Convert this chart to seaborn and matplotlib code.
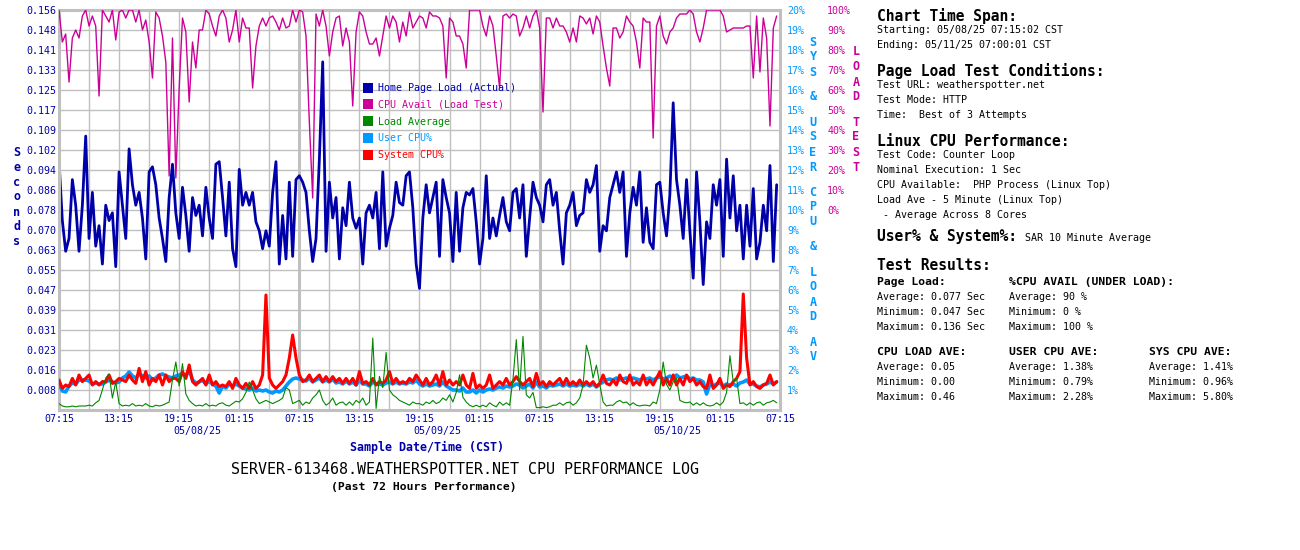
import numpy as np
import pandas as pd
import matplotlib
matplotlib.use("Agg")
import matplotlib.pyplot as plt
import matplotlib.dates as mdates
from matplotlib.lines import Line2D
import seaborn as sns

# samples every 20 minutes, 05/08/25 07:15 -> 05/11/25 07:15
page_load = [
    0.0975, 0.074, 0.062, 0.067, 0.090, 0.080, 0.062, 0.080, 0.107, 0.067,
    0.085, 0.064, 0.072, 0.057, 0.080, 0.074, 0.077, 0.056, 0.093, 0.080,
    0.067, 0.102, 0.088, 0.080, 0.085, 0.075, 0.059, 0.093, 0.095, 0.088,
    0.075, 0.067, 0.058, 0.083, 0.096, 0.077, 0.067, 0.087, 0.076, 0.062,
    0.083, 0.076, 0.080, 0.068, 0.087, 0.075, 0.067, 0.096, 0.097, 0.083,
    0.068, 0.089, 0.063, 0.056,
    0.094, 0.080, 0.085, 0.080, 0.085, 0.0735, 0.070, 0.063, 0.070, 0.064,
    0.085, 0.097, 0.057, 0.076, 0.059, 0.089, 0.060, 0.090, 0.0915, 0.089,
    0.085, 0.070, 0.058, 0.067, 0.098, 0.136, 0.062, 0.089, 0.075, 0.083,
    0.059, 0.079, 0.072, 0.089, 0.075, 0.071, 0.075, 0.057, 0.077, 0.080,
    0.075, 0.085, 0.063, 0.093, 0.064, 0.071, 0.076, 0.089, 0.081, 0.080,
    0.0915, 0.093, 0.079, 0.057,
    0.0475, 0.075, 0.088, 0.077, 0.083, 0.089, 0.060, 0.090, 0.083, 0.077,
    0.058, 0.085, 0.062, 0.079, 0.085, 0.084, 0.0865, 0.0735, 0.057, 0.067,
    0.0915, 0.067, 0.075, 0.068, 0.076, 0.083, 0.0735, 0.070, 0.085, 0.0865,
    0.075, 0.088, 0.060, 0.075, 0.089, 0.083, 0.080, 0.0735, 0.088, 0.090,
    0.080, 0.085, 0.070, 0.057, 0.077, 0.080, 0.085, 0.072, 0.076, 0.077,
    0.090, 0.085, 0.088, 0.0955,
    0.062, 0.072, 0.070, 0.083, 0.088, 0.093, 0.085, 0.093, 0.060, 0.077,
    0.087, 0.080, 0.093, 0.0655, 0.079, 0.0655, 0.063, 0.088, 0.089, 0.077,
    0.068, 0.084, 0.120, 0.090, 0.080, 0.067, 0.090, 0.070, 0.0515, 0.093,
    0.0735, 0.049, 0.0735, 0.067, 0.088, 0.080, 0.090, 0.060, 0.098, 0.075,
    0.0915, 0.070, 0.080, 0.059, 0.080, 0.064, 0.0865, 0.059, 0.0655, 0.080,
    0.070, 0.0955, 0.058, 0.088,
]

cpu_avail = [
    100, 84, 88, 64, 86, 90, 86, 97, 100, 92, 97, 92, 57, 100, 97, 94, 100, 85,
    99, 100, 96, 100, 100, 94, 100, 90, 95, 84, 66, 99, 96, 87, 74, 17, 86, 16,
    61, 96, 89, 54, 84, 71, 90, 90, 100, 98, 92, 87, 97, 100, 96, 84, 90, 100,
    84, 96, 91, 91, 61, 82, 92, 96, 92, 96, 97, 94, 90, 96, 91, 92, 100, 94,
    100, 99, 87, 44, 6, 98, 92, 100, 92, 77, 89, 96, 97, 82, 91, 84, 52, 89,
    99, 97, 89, 83, 83, 86, 77, 87, 97, 91, 97, 94, 84, 94, 87, 99, 91, 94,
    97, 96, 91, 99, 97, 97, 96, 92, 66, 96, 94, 87, 87, 83, 71, 100, 100, 100,
    100, 92, 87, 97, 92, 77, 61, 97, 98, 96, 98, 97, 87, 91, 97, 91, 97, 100,
    91, 49, 96, 96, 91, 96, 92, 92, 89, 84, 91, 84, 97, 96, 93, 96, 88, 97,
    94, 82, 71, 62, 91, 91, 86, 89, 97, 94, 92, 84, 71, 96, 94, 94, 36, 92,
    97, 87, 83, 89, 91, 96, 98, 98, 98, 100, 98, 89, 84, 91, 100, 100, 100, 100,
    100, 97, 89, 90, 91, 91, 91, 91, 92, 92, 66, 97, 69, 96, 86, 42, 91, 97,
]

load_avg = [
    0.04, 0.025, 0.02, 0.02, 0.025, 0.02, 0.025, 0.025, 0.025, 0.03,
    0.025, 0.045, 0.06, 0.125, 0.2, 0.225, 0.075, 0.175, 0.04, 0.025,
    0.03, 0.025, 0.04, 0.025, 0.03, 0.025, 0.04, 0.025, 0.02, 0.03,
    0.025, 0.03, 0.04, 0.05, 0.19, 0.30, 0.15, 0.29, 0.10, 0.06,
    0.04, 0.025, 0.03, 0.025, 0.04, 0.025, 0.03, 0.025, 0.04, 0.045,
    0.03, 0.025, 0.04, 0.055,
    0.05, 0.07, 0.11, 0.175, 0.125, 0.07, 0.04, 0.05, 0.06, 0.05,
    0.04, 0.05, 0.06, 0.075, 0.14, 0.125, 0.04, 0.05, 0.06, 0.03,
    0.05, 0.04, 0.075, 0.095, 0.125, 0.06, 0.03, 0.045, 0.075, 0.03,
    0.045, 0.05, 0.03, 0.05, 0.03, 0.06, 0.045, 0.075, 0.03, 0.05,
    0.45, 0.01, 0.21, 0.14, 0.36, 0.125, 0.095, 0.08, 0.06, 0.05,
    0.04, 0.03, 0.05, 0.04,
    0.04, 0.03, 0.05, 0.04, 0.06, 0.04, 0.05, 0.075, 0.06, 0.095,
    0.05, 0.11, 0.22, 0.08, 0.05, 0.03, 0.02, 0.03, 0.02, 0.03,
    0.02, 0.045, 0.03, 0.02, 0.05, 0.03, 0.045, 0.03, 0.19, 0.44,
    0.125, 0.46, 0.095, 0.075, 0.11, 0.015, 0.015, 0.02, 0.015, 0.02,
    0.03, 0.03, 0.045, 0.03, 0.045, 0.05, 0.03, 0.045, 0.075, 0.155,
    0.405, 0.325, 0.2, 0.28,
    0.16, 0.05, 0.025, 0.03, 0.03, 0.05, 0.06, 0.045, 0.05, 0.03,
    0.045, 0.03, 0.025, 0.03, 0.03, 0.025, 0.05, 0.04, 0.125, 0.30,
    0.16, 0.125, 0.175, 0.2, 0.06, 0.05, 0.045, 0.05, 0.03, 0.045,
    0.03, 0.045, 0.03, 0.025, 0.03, 0.045, 0.03, 0.05, 0.11, 0.34,
    0.175, 0.2, 0.04, 0.045, 0.03, 0.045, 0.03, 0.045, 0.05, 0.03,
    0.045, 0.05, 0.06, 0.045,
]

user_cpu = [
    1.3, 0.95, 0.9, 1.2, 1.35, 1.3, 1.5, 1.5, 1.5, 1.45,
    1.3, 1.35, 1.3, 1.3, 1.4, 1.5, 1.4, 1.35, 1.4, 1.6,
    1.7, 1.9, 1.7, 1.6, 1.8, 1.7, 1.6, 1.7, 1.5, 1.6,
    1.75, 1.8, 1.7, 1.65, 1.6, 1.7, 1.75, 1.8, 1.7, 2.0,
    1.5, 1.35, 1.4, 1.5, 1.3, 1.45, 1.3, 1.2, 0.85, 1.2,
    1.1, 1.3, 1.2, 1.3,
    1.2, 1.1, 1.05, 1.0, 1.1, 0.95, 1.0, 0.95, 1.0, 0.9,
    0.85, 0.95, 0.9, 1.0, 1.2, 1.4, 1.55, 1.6, 1.55, 1.5,
    1.45, 1.6, 1.4, 1.5, 1.6, 1.4, 1.5, 1.4, 1.55, 1.35,
    1.4, 1.3, 1.45, 1.3, 1.4, 1.25, 1.5, 1.3, 1.3, 1.2,
    1.4, 1.3, 1.3, 1.25, 1.35, 1.4, 1.3, 1.4, 1.3, 1.35,
    1.3, 1.4, 1.35, 1.5,
    1.3, 1.2, 1.3, 1.2, 1.25, 1.3, 1.2, 1.4, 1.2, 1.1,
    1.0, 1.0, 0.95, 1.1, 0.9, 0.9, 1.0, 0.85, 1.0, 0.9,
    1.0, 1.05, 1.0, 1.1, 1.15, 1.1, 1.2, 1.15, 1.2, 1.3,
    1.25, 1.1, 1.2, 1.3, 1.1, 1.4, 1.15, 1.2, 1.1, 1.25,
    1.2, 1.25, 1.3, 1.2, 1.3, 1.2, 1.25, 1.2, 1.3, 1.2,
    1.3, 1.2, 1.3, 1.15,
    1.3, 1.4, 1.5, 1.55, 1.5, 1.6, 1.5, 1.55, 1.6, 1.5,
    1.6, 1.55, 1.5, 1.6, 1.55, 1.6, 1.5, 1.6, 1.65, 1.55,
    1.6, 1.7, 1.6, 1.75, 1.6, 1.65, 1.7, 1.55, 1.6, 1.5,
    1.5, 1.4, 0.8, 1.3, 1.2, 1.3, 1.35, 1.2, 1.3, 1.25,
    1.3, 1.2, 1.35, 1.4, 1.5, 1.3, 1.3, 1.2, 1.15, 1.25,
    1.3, 1.4, 1.3, 1.4,
]

sys_cpu = [
    1.5, 1.08, 1.25, 1.17, 1.58, 1.25, 1.75, 1.42, 1.58, 1.75,
    1.25, 1.42, 1.25, 1.42, 1.42, 1.75, 1.33, 1.42, 1.58, 1.5,
    1.42, 1.75, 1.5, 1.33, 2.08, 1.42, 1.92, 1.25, 1.58, 1.42,
    1.75, 1.25, 1.75, 1.42, 1.58, 1.58, 1.42, 1.92, 1.58, 2.25,
    1.42, 1.25, 1.42, 1.58, 1.25, 1.75, 1.25, 1.42, 1.17, 1.25,
    1.17, 1.42, 1.08, 1.58,
    1.25, 1.08, 1.33, 1.08, 1.42, 1.08, 1.25, 1.75, 5.75, 1.6,
    1.25, 1.08, 1.25, 1.42, 1.75, 2.6, 3.75, 2.6, 1.75, 1.42,
    1.5, 1.75, 1.42, 1.58, 1.75, 1.42, 1.67, 1.42, 1.67, 1.42,
    1.58, 1.33, 1.58, 1.33, 1.58, 1.25, 1.92, 1.33, 1.42, 1.25,
    1.58, 1.25, 1.42, 1.33, 1.5, 1.92, 1.33, 1.58, 1.33, 1.42,
    1.33, 1.58, 1.42, 1.75,
    1.5, 1.25, 1.58, 1.25, 1.42, 1.75, 1.25, 1.92, 1.25, 1.5,
    1.25, 1.42, 1.25, 1.75, 1.25, 1.08, 1.83, 1.08, 1.25, 1.08,
    1.25, 1.75, 1.08, 1.25, 1.42, 1.25, 1.58, 1.25, 1.42, 1.67,
    1.42, 1.25, 1.42, 1.58, 1.17, 1.83, 1.25, 1.42, 1.17, 1.42,
    1.25, 1.42, 1.58, 1.25, 1.58, 1.25, 1.42, 1.25, 1.5, 1.25,
    1.42, 1.25, 1.42, 1.17,
    1.33, 1.75, 1.33, 1.25, 1.5, 1.25, 1.75, 1.42, 1.33, 1.75,
    1.25, 1.42, 1.25, 1.75, 1.25, 1.5, 1.25, 1.58, 1.92, 1.25,
    1.58, 1.25, 1.75, 1.25, 1.58, 1.25, 1.75, 1.42, 1.58, 1.25,
    1.42, 1.17, 1.08, 1.75, 1.08, 1.25, 1.58, 1.08, 1.25, 1.17,
    1.42, 1.58, 1.92, 5.8, 2.6, 1.25, 1.42, 1.17, 1.08, 1.25,
    1.33, 1.75, 1.25, 1.42,
]

seconds_labels = ["0.008", "0.016", "0.023", "0.031", "0.039", "0.047", "0.055",
                  "0.063", "0.070", "0.078", "0.086", "0.094", "0.102", "0.109",
                  "0.117", "0.125", "0.133", "0.141", "0.148", "0.156"]
date_labels = ["05/08/25", "05/09/25", "05/10/25"]
series_names = ["Home Page Load (Actual)", "CPU Avail (Load Test)", "Load Average",
                "User CPU%", "System CPU%"]

NAVY = "#0000AA"
MAGENTA = "#CC0099"
GREEN = "#008800"
LBLUE = "#0099FF"
RED = "#FF0000"
GRID = "#C0C0C0"

sns.set_style("white")
plt.rcParams["font.family"] = ["DejaVu Sans Mono"]

W, H = 1300, 550
fig = plt.figure(figsize=(13, 5.5), dpi=100)


def fx(x):
    return x / W


def fy(y):
    return 1 - y / H


ax = fig.add_axes([fx(59), fy(410), (780 - 59) / W, 400 / H])
ax_pct = ax.twinx()
ax_avail = ax.twinx()
ax_load = ax.twinx()

times = pd.date_range("2025-05-08 07:15", periods=len(page_load), freq="20min")
start = times[0]
end = start + pd.Timedelta(hours=72)
xs = mdates.date2num(times.to_pydatetime())
x0, x1 = mdates.date2num(start.to_pydatetime()), mdates.date2num(end.to_pydatetime())

sns.lineplot(x=xs, y=page_load, ax=ax, color=NAVY, linewidth=2.0, estimator=None)
sns.lineplot(x=xs, y=cpu_avail, ax=ax_avail, color=MAGENTA, linewidth=1.0, estimator=None)
sns.lineplot(x=xs, y=load_avg, ax=ax_load, color=GREEN, linewidth=0.8, estimator=None)
sns.lineplot(x=xs, y=user_cpu, ax=ax_pct, color=LBLUE, linewidth=2.6, estimator=None)
sns.lineplot(x=xs, y=sys_cpu, ax=ax_pct, color=RED, linewidth=2.2, estimator=None)

for a in (ax, ax_pct, ax_avail, ax_load):
    a.set_xlim(x0, x1)
    a.set_xlabel("")
    a.set_ylabel("")

ax.set_ylim(0, 0.15625)
ax_pct.set_ylim(0, 20)
ax_avail.set_ylim(-100, 100)
ax_load.set_ylim(0, 2.5)

# x axis: labels every 6 hours, grid every 3 hours
major = pd.date_range(start, end, freq="6h")
minor = pd.date_range(start, end, freq="3h")
ax.set_xticks(mdates.date2num(major.to_pydatetime()))
ax.set_xticks(mdates.date2num(minor.to_pydatetime()), minor=True)
ax.xaxis.set_major_formatter(mdates.DateFormatter("%H:%M"))
ax.tick_params(axis="x", which="both", length=0, pad=3, labelsize=7.2, labelcolor=NAVY)

ax.set_yticks(np.linspace(0, 0.15625, 21)[1:])
ax.set_yticklabels(seconds_labels)
ax.tick_params(axis="y", length=0, pad=2, labelsize=7.2, labelcolor=NAVY)

ax.set_axisbelow(True)
ax.grid(True, which="both", color=GRID, linewidth=1.0)
for day in (1, 2):
    ax.axvline(mdates.date2num((start + pd.Timedelta(days=day)).to_pydatetime()),
               color=GRID, linewidth=2.2, zorder=0.5)

for s in ax.spines.values():
    s.set_color(GRID)
    s.set_linewidth(2.2)

ax_pct.set_yticks(range(1, 21))
ax_pct.set_yticklabels([f"{v}%" for v in range(1, 21)])
ax_pct.tick_params(axis="y", length=0, pad=5, labelsize=7.2, labelcolor=LBLUE)
for lbl in ax_pct.get_yticklabels():
    lbl.set_horizontalalignment("left")

ax_avail.set_yticks(range(0, 101, 10))
ax_avail.set_yticklabels([f"{v}%" for v in range(0, 101, 10)])
ax_avail.tick_params(axis="y", length=0, pad=34, labelsize=7.2, labelcolor=MAGENTA)

ax_load.set_yticks([])
for a in (ax_pct, ax_avail, ax_load):
    for s in a.spines.values():
        s.set_visible(False)

# date labels under the time ticks
for j, d in enumerate(date_labels):
    fig.text(fx(197 + 240 * j), fy(431), d, ha="center", va="center",
             fontsize=7.2, color=NAVY)
fig.text(fx(427), fy(447), "Sample Date/Time (CST)", ha="center", va="center",
         fontsize=8.4, fontweight="bold", color=NAVY)
fig.text(fx(465), fy(470), "SERVER-613468.WEATHERSPOTTER.NET CPU PERFORMANCE LOG",
         ha="center", va="center", fontsize=10.8, color="black")
fig.text(fx(424), fy(487), "(Past 72 Hours Performance)", ha="center", va="center",
         fontsize=8.2, fontweight="bold", color="black")


def stacked(text, x, y, color):
    for ch in text:
        if ch == " ":
            y += 10
            continue
        fig.text(fx(x), fy(y), ch, ha="center", va="center", fontsize=8.5,
                 fontweight="bold", color=color)
        y += 15


stacked("Seconds", 17, 152, NAVY)
stacked("SYS & USER CPU & LOAD AV", 813, 42, LBLUE)
stacked("LOAD TEST", 856, 52, MAGENTA)

colors = [NAVY, MAGENTA, GREEN, LBLUE, RED]
handles = [Line2D([0], [0], marker="s", linestyle="", markersize=6.5,
                  markeredgewidth=0, color=c) for c in colors]
fig.legend(handles, series_names, loc="upper left", bbox_to_anchor=(fx(364), fy(83)),
           frameon=False, handlelength=0.8, handletextpad=0.6, labelspacing=0.68,
           borderpad=0, borderaxespad=0, prop={"size": 7.2}, labelcolor=colors)

# info panel on the right
heads = [("Chart Time Span:", 16), ("Page Load Test Conditions:", 71),
         ("Linux CPU Performance:", 141), ("User% & System%:", 237),
         ("Test Results:", 266)]
for t, y in heads:
    fig.text(fx(877), fy(y), t, ha="left", va="center", fontsize=10.5,
             fontweight="bold", color="black")
fig.text(fx(1025), fy(238), "SAR 10 Minute Average", ha="left", va="center",
         fontsize=7.2, color="black")

body = [("Starting: 05/08/25 07:15:02 CST", 30), ("Ending: 05/11/25 07:00:01 CST", 45),
        ("Test URL: weatherspotter.net", 85), ("Test Mode: HTTP", 100),
        ("Time:  Best of 3 Attempts", 115), ("Test Code: Counter Loop", 155),
        ("Nominal Execution: 1 Sec", 170),
        ("CPU Available:  PHP Process (Linux Top)", 185),
        ("Load Ave - 5 Minute (Linux Top)", 200), (" - Average Across 8 Cores", 215)]
for t, y in body:
    fig.text(fx(877), fy(y), t, ha="left", va="center", fontsize=7.2, color="black")

columns = [
    (877, 282, "Page Load:", ["Average: 0.077 Sec", "Minimum: 0.047 Sec", "Maximum: 0.136 Sec"]),
    (1009, 282, "%CPU AVAIL (UNDER LOAD):", ["Average: 90 %", "Minimum: 0 %", "Maximum: 100 %"]),
    (877, 352, "CPU LOAD AVE:", ["Average: 0.05", "Minimum: 0.00", "Maximum: 0.46"]),
    (1009, 352, "USER CPU AVE:", ["Average: 1.38%", "Minimum: 0.79%", "Maximum: 2.28%"]),
    (1149, 352, "SYS CPU AVE:", ["Average: 1.41%", "Minimum: 0.96%", "Maximum: 5.80%"]),
]
for x, y, head, rows in columns:
    fig.text(fx(x), fy(y), head, ha="left", va="center", fontsize=8.2,
             fontweight="bold", color="black")
    for k, r in enumerate(rows):
        fig.text(fx(x), fy(y + 15 * (k + 1)), r, ha="left", va="center",
                 fontsize=7.2, color="black")

fig.savefig("out.png", dpi=100, facecolor="white")
